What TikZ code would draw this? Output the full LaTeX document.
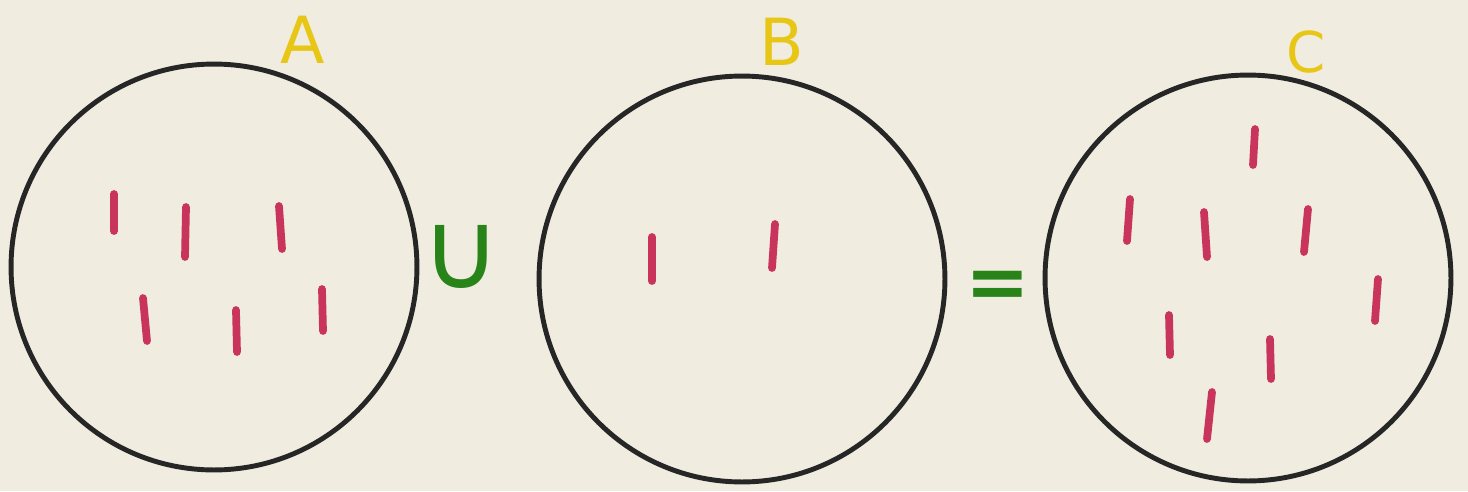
\documentclass[tikz,border=0pt]{standalone}
\usepackage{fontspec}
\setsansfont{DejaVu Sans}
\newfontfamily\opfont{DejaVu Sans}
\usepackage{tikz}
\definecolor{paper}{RGB}{240,236,224}
\definecolor{ink}{RGB}{38,38,38}
\definecolor{tallyred}{RGB}{200,52,92}
\definecolor{penyellow}{RGB}{232,198,22}
\definecolor{pengreen}{RGB}{40,132,24}
\usetikzlibrary{positioning}

\begin{document}
\begin{tikzpicture}[x=0.02cm, y=-0.02cm,
		set/.style={draw=ink, line width=2.8pt, circle, minimum size=8.12cm, inner sep=0pt},
		tally/.style={draw=tallyred, line width=4.4pt, line cap=round},
		setname/.style={text=penyellow, font=\fontsize{37}{37}\selectfont\sffamily, inner sep=0pt},
		operator/.style={text=pengreen, inner sep=0pt}]
		% Papier
		\fill[paper] (0,0) rectangle (1468,491);
		\useasboundingbox (0,0) rectangle (1468,491);
		% Mengen zeichnen
		\node[set] (setA) at (214,267) {};
		\node[set] (setB) at (742,279) {};
		\node[set] (setC) at (1248,278) {};
		% Mengen beschriften
		\node[setname] (nameA) at (303,40) {A};
		\node[setname] (nameB) at (782,42) {B};
		\node[setname, font=\fontsize{32}{32}\selectfont\sffamily] (nameC) at (1306,52) {C};
		% Vereinigung und Gleichheit
		\node[operator, font=\fontsize{62}{62}\selectfont\opfont] (cup) at (461,257) {∪};
		\node[operator, font=\fontsize{44}{44}\selectfont\opfont\bfseries] (equal) at (998,290) {=};
		% Elemente in A
		\foreach \xa/\ya/\xb/\yb in {114/194/114/231, 186/207/185/257, 279/206/282/249,
			143/298/147/341, 236/310/237/352, 322/289/323/331}
			\draw[tally] (\xa,\ya) -- (\xb,\yb);
		% Elemente in B
		\foreach \xa/\ya/\xb/\yb in {652/237/652/281, 775/224/772/268}
			\draw[tally] (\xa,\ya) -- (\xb,\yb);
		% Elemente in C
		\foreach \xa/\ya/\xb/\yb in {1255/129/1253/165, 1130/199/1127/241, 1204/212/1207/257,
			1308/209/1304/252, 1378/279/1375/321, 1169/315/1170/355, 1270/339/1271/379,
			1212/392/1207/439}
			\draw[tally] (\xa,\ya) -- (\xb,\yb);
	\end{tikzpicture}
\end{document}
